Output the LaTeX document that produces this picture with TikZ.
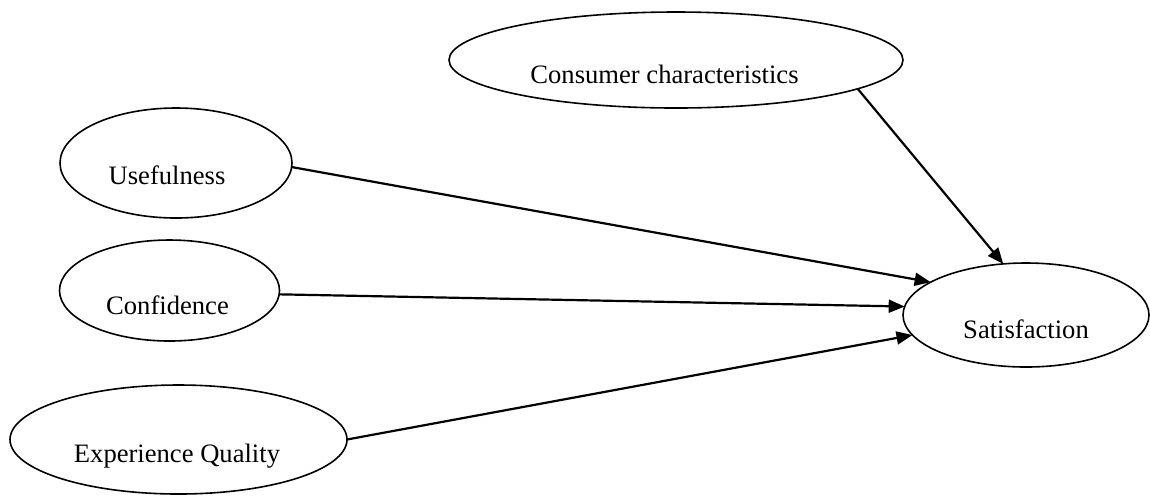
\documentclass[tikz,border=0pt]{standalone}
\usepackage{fontspec}
\setmainfont{Liberation Serif}
\usetikzlibrary{shapes.geometric,arrows.meta}
\begin{document}
\begin{tikzpicture}[x=0.5pt,y=-0.5pt,
  oval/.style={ellipse,draw=black,line width=0.8pt,inner sep=0pt,outer sep=0pt},
  lbl/.style={anchor=base,inner sep=0pt,font=\fontsize{13.3}{16}\selectfont},
  link/.style={line width=1.1pt,-{Triangle[length=8pt,width=6.5pt]}}]
\useasboundingbox (0,0) rectangle (1150,495);
\node[oval,minimum width=227pt,minimum height=48pt] (cc) at (676,60) {};
\node[oval,minimum width=116pt,minimum height=55pt] (us) at (176,163) {};
\node[oval,minimum width=110pt,minimum height=50.5pt] (cf) at (169.5,290.5) {};
\node[oval,minimum width=168.5pt,minimum height=54.5pt] (eq) at (178.5,439.5) {};
\node[oval,minimum width=123pt,minimum height=52pt] (sa) at (1026,315) {};
\node[lbl] (cct) at (664.5,83) {Consumer characteristics};
\node[lbl] (ust) at (167,184) {Usefulness};
\node[lbl] (cft) at (167.5,314) {Confidence};
\node[lbl] (eqt) at (177,462) {Experience Quality};
\node[lbl] (sat) at (1026,338) {Satisfaction};
\draw[link] (cc.-9.4) -- (sa.114.3);
\draw[link] (us.-2) -- (sa.161.2);
\draw[link] (cf.-2.35) -- (sa.176.7);
\draw[link] (eq.0.5) -- (sa.190.9);
\end{tikzpicture}
\end{document}
